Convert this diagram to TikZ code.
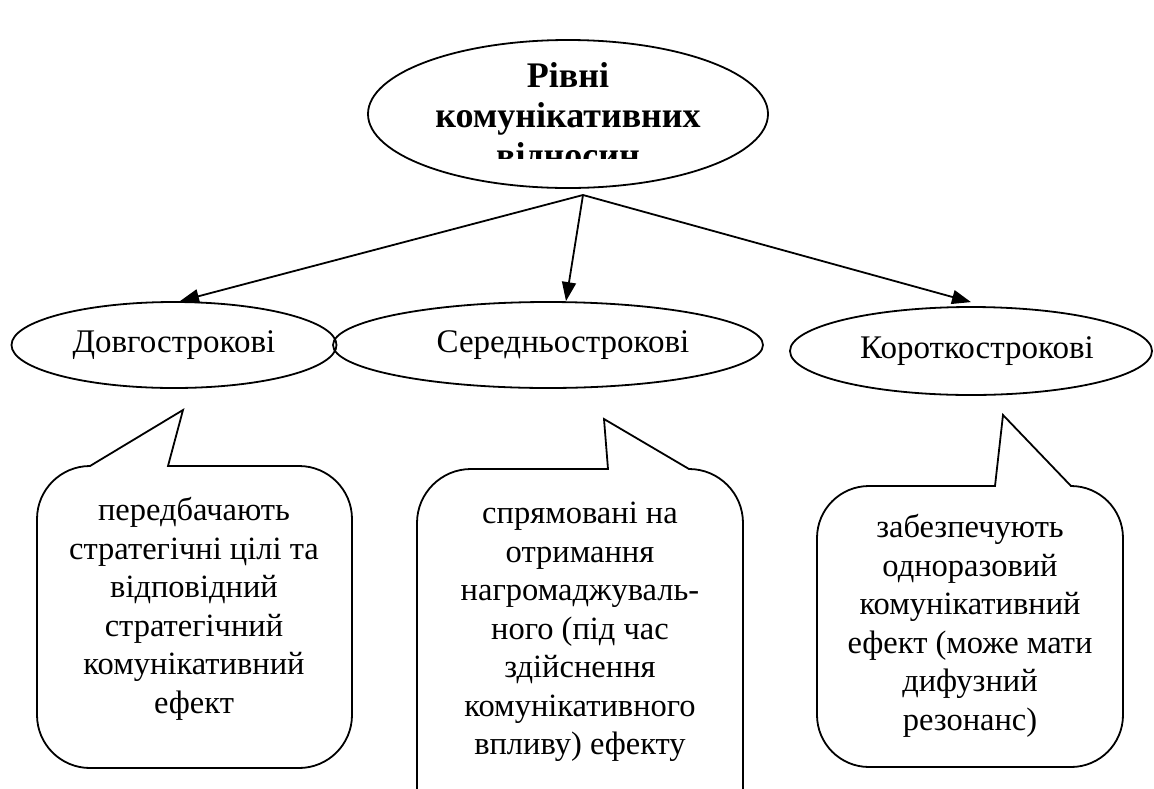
\documentclass[tikz,border=0pt]{standalone}
\usepackage{fontspec}
\setmainfont{Liberation Serif}
\usetikzlibrary{shapes.geometric, arrows.meta}
\tikzset{every picture/.style={line width=1.8pt}}

\begin{document}
\begin{tikzpicture}[x=1pt,y=-1pt,
    level/.style={draw, ellipse, inner sep=0pt, font=\fontsize{33}{38.5}\selectfont},
    note/.style={align=center, font=\fontsize{32.5}{38.5}\selectfont},
    arr/.style={-{Triangle[length=19pt,width=14pt]}}]
    \clip (0,0) rectangle (1154,788);
    \node[level, minimum width=400pt, minimum height=148pt] (top) at (568,114) {};
    \begin{scope}
        \clip (368,40) rectangle (768,158);
        \node[align=center, font=\fontsize{36}{40}\bfseries\selectfont] (title) at (568,118) {Рівні\\комунікативних\\відносин};
    \end{scope}
    \coordinate (src) at (583,195);

    \node[level, minimum width=325pt, minimum height=86pt] (long) at (174,345) {Довгострокові};
    \node[level, minimum width=430pt, minimum height=86pt] (mid) at (548,345) {\hspace{30pt}Середньострокові};
    \node[level, minimum width=362pt, minimum height=88pt] (short) at (971,351) {\hspace{12pt}Короткострокові};

    \draw[arr] (src) -- ([xshift=6pt]long.north);
    \draw[arr] (src) -- ([xshift=18pt]mid.north);
    \draw[arr] (src) -- ([yshift=4pt]short.north);

    \draw (90,466) -- (183,410) -- (168,466) -- (299,466) arc[start angle=90, end angle=0, radius=53pt]
        -- (352,715) arc[start angle=0, end angle=-90, radius=53pt]
        -- (90,768) arc[start angle=-90, end angle=-180, radius=53pt]
        -- (37,519) arc[start angle=180, end angle=90, radius=53pt] -- cycle;
    \draw (608,469) -- (604,419) -- (689,469) arc[start angle=90, end angle=0, radius=54pt]
        -- (743,846) -- (417,846)
        -- (417,523) arc[start angle=180, end angle=90, radius=54pt] -- cycle;
    \draw (995,486) -- (1003,415) -- (1071,486) arc[start angle=90, end angle=0, radius=52pt]
        -- (1123,715) arc[start angle=0, end angle=-90, radius=52pt]
        -- (869,767) arc[start angle=-90, end angle=-180, radius=52pt]
        -- (817,538) arc[start angle=180, end angle=90, radius=52pt] -- cycle;

    \node[note] (n1) at (194,609) {передбачають\\стратегічні цілі та\\відповідний\\стратегічний\\комунікативний\\ефект};
    \node[note] (n2) at (580,632) {спрямовані на\\отримання\\нагромаджуваль-\\ного (під час\\здійснення\\комунікативного\\впливу) ефекту};
    \node[note] (n3) at (970,626) {забезпечують\\одноразовий\\комунікативний\\ефект (може мати\\дифузний\\резонанс)};
\end{tikzpicture}
\end{document}
